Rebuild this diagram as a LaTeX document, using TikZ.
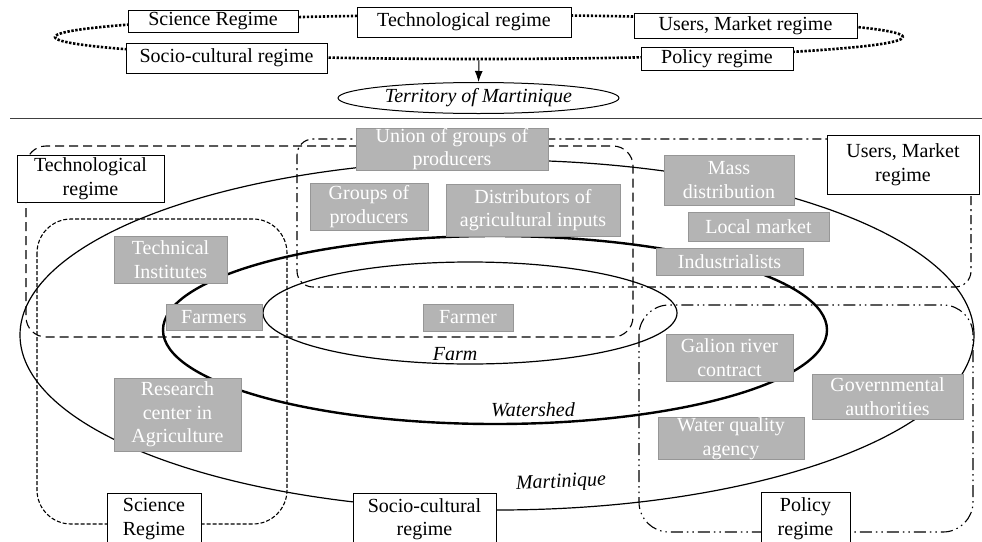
\documentclass[tikz,border=0pt]{standalone}
\usepackage{fontspec}
\setmainfont{Liberation Serif}
\usetikzlibrary{arrows.meta,shapes.geometric}
\definecolor{actorfill}{RGB}{180,180,180}
\definecolor{actorline}{RGB}{150,150,150}
\tikzset{
  regime/.style={draw, fill=white, line width=1pt, align=center, inner sep=0pt},
  actor/.style={draw=actorline, fill=actorfill, text=white, align=center, inner sep=0pt, line width=1pt},
  zonelabel/.style={font=\fontsize{20}{23.5}\selectfont\itshape},
  techzone/.style={line width=1.1pt, dash pattern=on 9pt off 5pt},
  scizone/.style={line width=1.1pt, dash pattern=on 4pt off 2pt},
  userzone/.style={line width=1.1pt, dash pattern=on 9pt off 4pt on 2pt off 4pt},
  policyzone/.style={line width=1.1pt, dash pattern=on 12pt off 4pt on 1.5pt off 4pt on 1.5pt off 4pt},
}
\begin{document}
\begin{tikzpicture}[x=1pt,y=-1pt,font=\fontsize{20}{23.5}\selectfont]
\useasboundingbox (0,0) rectangle (982,541);
% upper panel: the five regimes and the territory
\node[ellipse, draw, line width=2.6pt, dash pattern=on 2.4pt off 1.6pt, minimum width=848pt, minimum height=44pt] (regimes) at (479,37) {};
\node[regime, minimum width=170pt, minimum height=22pt] (sciTop) at (213,21) {Science Regime};
\node[regime, minimum width=214pt, minimum height=30pt] (techTop) at (464,22) {Technological regime};
\node[regime, minimum width=223pt, minimum height=25pt] (usersTop) at (745.5,25.5) {Users, Market regime};
\node[regime, minimum width=201pt, minimum height=30pt] (socioTop) at (226.5,58) {Socio-cultural regime};
\node[regime, minimum width=152pt, minimum height=23pt] (policyTop) at (717,58.5) {Policy regime};
\node[ellipse, draw, line width=1pt, inner sep=0pt, minimum width=281pt, minimum height=31pt] (territory) at (478.5,98) {\itshape Territory of Martinique};
\draw[line width=1pt, -{Latex[length=11pt,width=8pt]}] (regimes.south) -- (territory.north);
\coordinate (ruleW) at (10,118);
\coordinate (ruleE) at (982,118);
\draw[line width=1pt, black!75] (ruleW) -- (ruleE);
% lower panel: regime zones
\draw[techzone, rounded corners=20pt] (26,146) rectangle (633,337);
\draw[userzone, rounded corners=16pt] (297,139) rectangle (971,287);
\draw[scizone, rounded corners=34pt] (37,219) rectangle (287,524);
\draw[policyzone, rounded corners=30pt] (639,305) rectangle (973,532);
% nested territories
\draw[line width=1.2pt] (497,335) ellipse [x radius=477pt, y radius=175pt];
\draw[line width=2.4pt] (495,330) ellipse [x radius=332pt, y radius=94pt];
\draw[line width=1.2pt] (470,313) ellipse [x radius=207pt, y radius=51pt];
\node[zonelabel] (farmLbl) at (455,354) {Farm};
\node[zonelabel] (watershedLbl) at (533,410) {Watershed};
\node[zonelabel, rotate=3] (martiniqueLbl) at (561,483) {Martinique};
% actors
\node[actor, minimum width=192pt, minimum height=42pt] (union) at (452,149) {Union of groups of\\producers};
\node[actor, minimum width=118pt, minimum height=47pt] (groups) at (369,206.5) {Groups of\\producers};
\node[actor, minimum width=174pt, minimum height=52pt] (distrib) at (533,210) {Distributors of\\agricultural inputs};
\node[actor, minimum width=130pt, minimum height=50pt] (mass) at (729,180) {Mass\\distribution};
\node[actor, minimum width=141pt, minimum height=29pt] (local) at (758.5,226.5) {Local market};
\node[actor, minimum width=147pt, minimum height=27pt] (indus) at (729.5,261.5) {Industrialists};
\node[actor, minimum width=113pt, minimum height=47pt] (techInst) at (170.5,259.5) {Technical\\Institutes};
\node[actor, minimum width=96pt, minimum height=26pt] (farmers) at (214,317) {Farmers};
\node[actor, minimum width=90pt, minimum height=27pt] (farmer) at (468,317.5) {Farmer};
\node[actor, minimum width=127pt, minimum height=73pt] (research) at (177.5,414.5) {Research\\center in\\Agriculture};
\node[actor, minimum width=127pt, minimum height=47pt] (galion) at (729.5,357.5) {Galion river\\contract};
\node[actor, minimum width=151pt, minimum height=45pt] (govern) at (887.5,396.5) {Governmental\\authorities};
\node[actor, minimum width=146pt, minimum height=39pt] (water) at (731,438.5) {Water quality\\agency};
% regime boxes of the lower panel
\node[regime, minimum width=147pt, minimum height=47pt] (techLow) at (90.5,178.5) {Technological\\regime};
\node[regime, minimum width=152pt, minimum height=59pt] (usersLow) at (903,164.5) {Users, Market\\regime};
\node[regime, minimum width=94pt, minimum height=52pt] (sciLow) at (154,519) {Science\\Regime};
\node[regime, minimum width=143pt, minimum height=52pt] (socioLow) at (424.5,519) {Socio-cultural\\regime};
\node[regime, minimum width=89pt, minimum height=53pt] (policyLow) at (805.5,518.5) {Policy\\regime};
\end{tikzpicture}
\end{document}
